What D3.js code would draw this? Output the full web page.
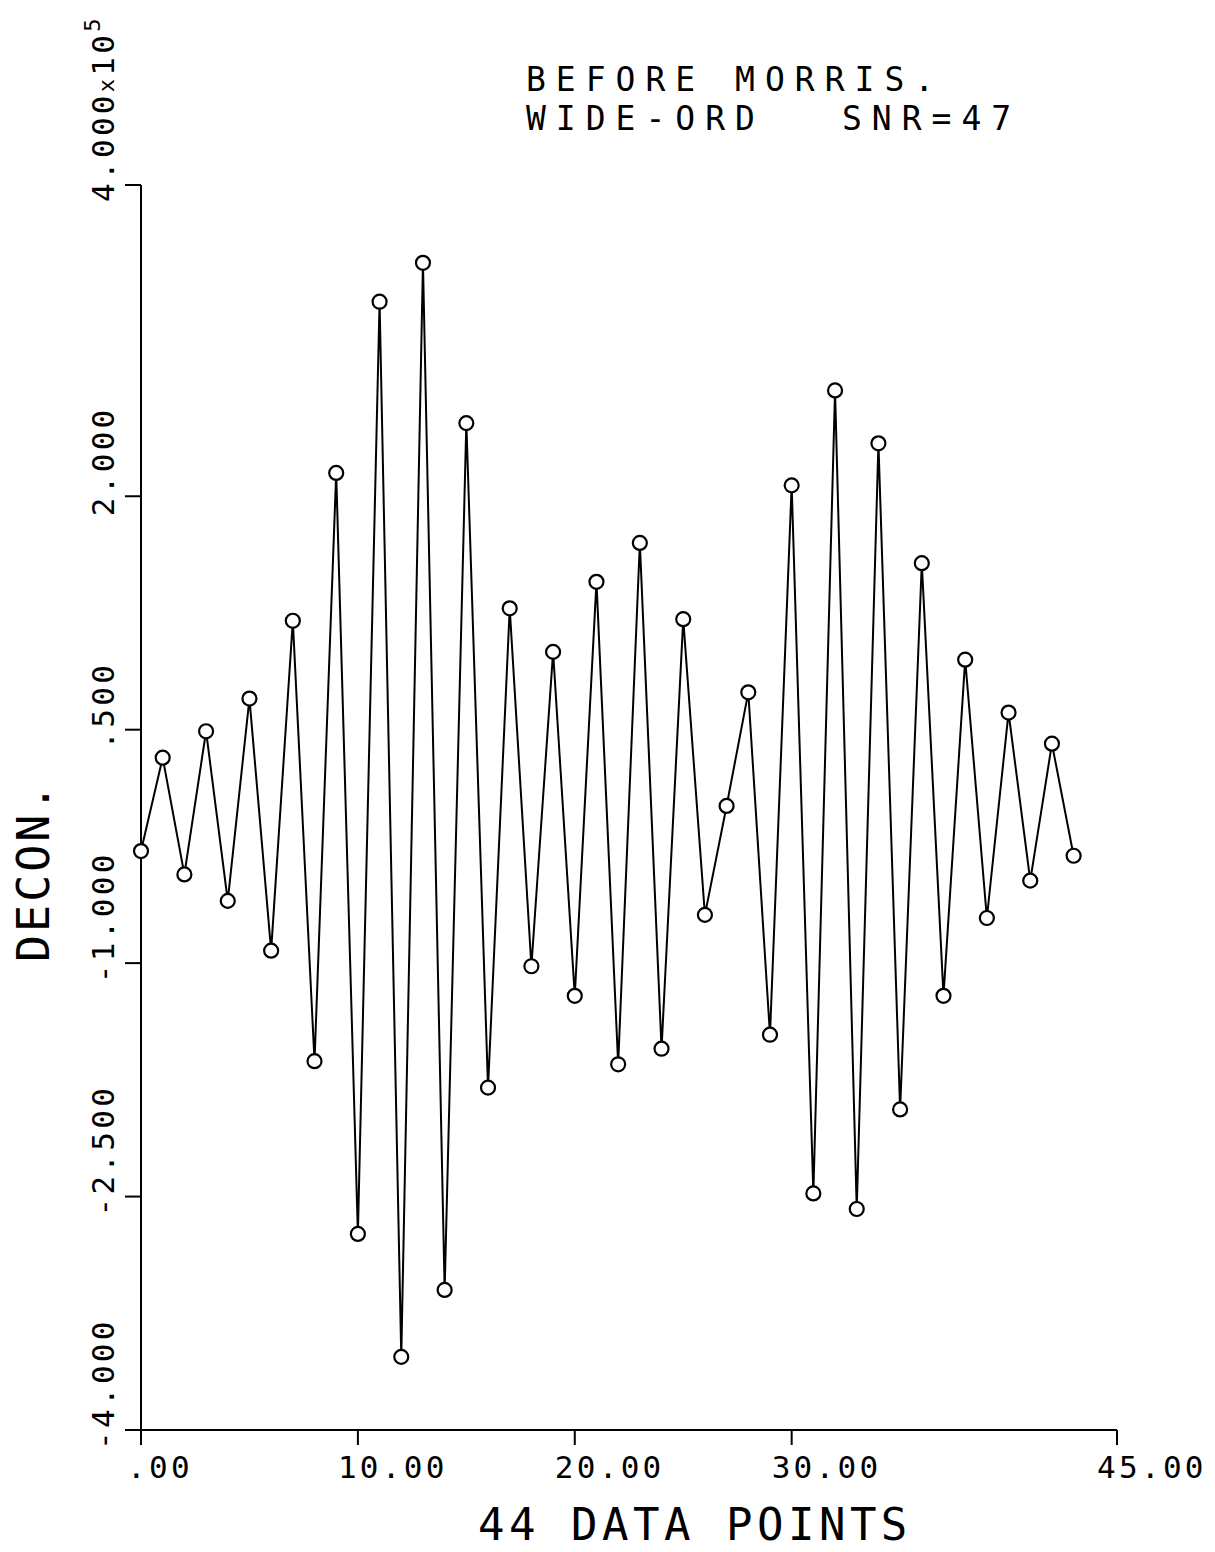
<!DOCTYPE html>
<html>
<head>
<meta charset="utf-8">
<script src="https://cdn.jsdelivr.net/npm/d3@7"></script>
<style>
  html, body { margin: 0; padding: 0; background: #fff; }
  svg { display: block; }
  text { font-family: "DejaVu Sans Mono", "Liberation Mono", monospace; fill: #000; }
</style>
</head>
<body>
<script>
// ---- data ----
const pointIndex = [0,1,2,3,4,5,6,7,8,9,10,11,12,13,14,15,16,17,18,19,20,21,
                    22,23,24,25,26,27,28,29,30,31,32,33,34,35,36,37,38,39,40,41,42,43];
const deconValues = [-0.28, 0.32, -0.43, 0.49, -0.60, 0.70, -0.92, 1.20, -1.63, 2.15,
                     -2.74, 3.25, -3.53, 3.50, -3.10, 2.47, -1.80, 1.28, -1.02, 1.00,
                     -1.21, 1.45, -1.65, 1.70, -1.55, 1.21, -0.69, 0.01, 0.74, -1.46,
                      2.07, -2.48, 2.68, -2.58, 2.34, -1.94, 1.57, -1.21, 0.95, -0.71,
                      0.61, -0.47, 0.41, -0.31];
const xTicks = [0, 10, 20, 30, 45];
const xTickLabels = [".00", "10.00", "20.00", "30.00", "45.00"];
const yTicks = [2.0, 0.5, -1.0, -2.5, -4.0];
const yTickLabels = ["2.000", ".500", "-1.000", "-2.500", "-4.000"];
const yTopLabel = "4.000x10";
const yTopExp = "5";
const titleLine1 = "BEFORE MORRIS.";
const titleLine2a = "WIDE-ORD";
const titleLine2b = "SNR=47";
const xTitle = "44 DATA POINTS";
const yTitle = "DECON.";

// ---- layout ----
const W = 1215, H = 1552;
const svg = d3.select("body").append("svg").attr("width", W).attr("height", H);

const x = d3.scaleLinear().domain([0, 45]).range([141, 1117]);
const y = d3.scaleLinear().domain([-4, 4]).range([1430, 185]);

const ink = "#000";

// y axis line
svg.append("line").attr("x1", x(0)).attr("x2", x(0))
  .attr("y1", y(4)).attr("y2", y(-4)).attr("stroke", ink).attr("stroke-width", 2);
// top small tick
svg.append("line").attr("x1", x(0) - 16).attr("x2", x(0))
  .attr("y1", y(4)).attr("y2", y(4)).attr("stroke", ink).attr("stroke-width", 2);
// y ticks
svg.selectAll(".yt").data(yTicks).enter().append("line")
  .attr("x1", x(0) - 16).attr("x2", x(0))
  .attr("y1", d => y(d)).attr("y2", d => y(d))
  .attr("stroke", ink).attr("stroke-width", 2);
// y tick labels (rotated)
svg.selectAll(".yl").data(yTicks).enter().append("text")
  .attr("transform", d => `translate(114,${y(d) + 20}) rotate(-90)`)
  .attr("font-size", 31).attr("letter-spacing", 3.3)
  .text((d, i) => yTickLabels[i]);
// top label with exponent
const topLab = svg.append("text")
  .attr("transform", `translate(114,${y(4) + 17}) rotate(-90)`)
  .attr("font-size", 31).attr("letter-spacing", 3.3);
topLab.append("tspan").text(yTopLabel.slice(0, 5));
topLab.append("tspan").attr("font-size", 22).text("x");
topLab.append("tspan").text(yTopLabel.slice(6));
topLab.append("tspan").attr("font-size", 22).attr("dy", -14).text(yTopExp);

// x axis line
svg.append("line").attr("x1", x(0) - 13).attr("x2", x(45))
  .attr("y1", y(-4)).attr("y2", y(-4)).attr("stroke", ink).attr("stroke-width", 2);
svg.selectAll(".xt").data(xTicks).enter().append("line")
  .attr("x1", d => x(d)).attr("x2", d => x(d))
  .attr("y1", y(-4)).attr("y2", y(-4) + 15)
  .attr("stroke", ink).attr("stroke-width", 2);
svg.selectAll(".xl").data(xTicks).enter().append("text")
  .attr("x", (d, i) => x(d) - (i === 0 ? 14 : 20))
  .attr("y", 1478)
  .attr("font-size", 31).attr("letter-spacing", 3.3)
  .text((d, i) => xTickLabels[i]);

// axis titles
svg.append("text").attr("x", 478).attr("y", 1540)
  .attr("font-size", 44).attr("letter-spacing", 4.5).text(xTitle);
svg.append("text").attr("transform", "translate(49,962) rotate(-90)")
  .attr("font-size", 45).attr("letter-spacing", 3).text(yTitle);

// chart title
svg.append("text").attr("x", 526).attr("y", 91)
  .attr("font-size", 33).attr("letter-spacing", 10).text(titleLine1);
svg.append("text").attr("x", 526).attr("y", 130)
  .attr("font-size", 33).attr("letter-spacing", 10).text(titleLine2a);
svg.append("text").attr("x", 842).attr("y", 130)
  .attr("font-size", 33).attr("letter-spacing", 10).text(titleLine2b);

// data line
const pts = pointIndex.map((d, i) => [d, deconValues[i]]);
svg.append("path").datum(pts)
  .attr("d", d3.line().x(d => x(d[0])).y(d => y(d[1])))
  .attr("fill", "none").attr("stroke", ink).attr("stroke-width", 2)
  .attr("stroke-linejoin", "miter");

// markers
svg.selectAll(".m").data(pts).enter().append("circle")
  .attr("cx", d => x(d[0])).attr("cy", d => y(d[1]))
  .attr("r", 7).attr("fill", "#fff").attr("stroke", ink).attr("stroke-width", 2.2);
</script>
</body>
</html>
